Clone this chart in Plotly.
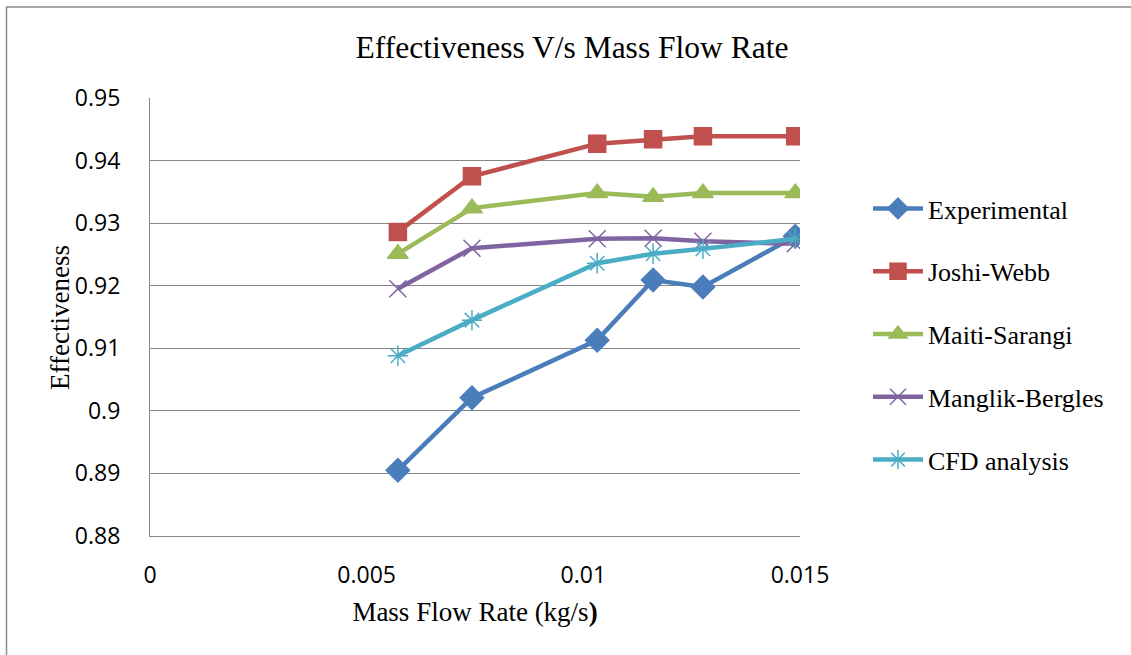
import plotly.graph_objects as go

# Mass flow rate (kg/s) at each test point
mass_flow = [0.00572, 0.00743, 0.01032, 0.01161, 0.01276, 0.01489]

# Effectiveness for each method
experimental = [0.8905, 0.9021, 0.9113, 0.9209, 0.9198, 0.9279]
joshi_webb = [0.9286, 0.9375, 0.9427, 0.9434, 0.9439, 0.9439]
maiti_sarangi = [0.9251, 0.9324, 0.9348, 0.9342, 0.9348, 0.9348]
manglik_bergles = [0.9195, 0.9260, 0.9275, 0.9276, 0.9271, 0.9267]
cfd_analysis = [0.9088, 0.9145, 0.9236, 0.9251, 0.9259, 0.9275]

x_ticks = [0, 0.005, 0.01, 0.015]
x_tick_text = ["0", "0.005", "0.01", "0.015"]
y_ticks = [0.88, 0.89, 0.90, 0.91, 0.92, 0.93, 0.94, 0.95]
y_tick_text = ["0.88", "0.89", "0.9", "0.91", "0.92", "0.93", "0.94", "0.95"]

series = [
    ("Experimental", experimental, "#4A7EBB", "diamond", 18),
    ("Joshi-Webb", joshi_webb, "#C0504D", "square", 17),
    ("Maiti-Sarangi", maiti_sarangi, "#9BBB59", "triangle-up", 18),
    ("Manglik-Bergles", manglik_bergles, "#8064A2", "x-thin-open", 17),
    ("CFD analysis", cfd_analysis, "#4BACC6", "asterisk-open", 17),
]

SERIF = "Liberation Serif, Times New Roman, serif"
SANS = "Open Sans, Noto Sans, sans-serif"

W, H = 1131, 655
ML, MR, MT, MB = 150, 331, 98, 119

fig = go.Figure()
for name, vals, color, symbol, size in series:
    fig.add_trace(go.Scatter(
        x=mass_flow, y=vals, name=name, mode="lines+markers",
        legendgroup=name,
        line=dict(color=color, width=4.5),
        marker=dict(symbol=symbol, size=size, color=color,
                    line=dict(color=color, width=1.5)),
    ))

pw = W - ML - MR
ph = H - MT - MB
# outer chart border (extends past the right and bottom edges)
fig.add_shape(type="rect", xref="paper", yref="paper",
              x0=(6.5 - ML) / pw, x1=(W + 20 - ML) / pw,
              y0=(H - (H + 20) - MB) / ph, y1=(H - 7 - MB) / ph,
              line=dict(color="#8c8c8c", width=1.5), fillcolor="rgba(0,0,0,0)",
              layer="below")

# y-axis title
fig.add_annotation(text="Effectiveness", textangle=-90,
                   xref="paper", yref="paper",
                   x=(60 - ML) / pw, y=1 - (318 - MT) / ph,
                   xanchor="center", yanchor="middle", showarrow=False,
                   font=dict(family=SERIF, size=27, color="black"))

fig.update_layout(
    width=W, height=H,
    margin=dict(l=ML, r=MR, t=MT, b=MB),
    paper_bgcolor="white", plot_bgcolor="white",
    title=dict(text="Effectiveness V/s Mass Flow Rate", xref="container",
               x=572 / W, xanchor="center", y=1 - 47 / H, yanchor="middle",
               font=dict(family=SERIF, size=31.5, color="black")),
    xaxis=dict(range=[0, 0.015], tickvals=x_ticks, ticktext=x_tick_text,
               showgrid=False, zeroline=False, showline=True,
               linecolor="#868686", linewidth=1.2, ticks="",
               ticklabelstandoff=18,
               tickfont=dict(family=SANS, size=23, color="black"),
               title=dict(text="Mass Flow Rate (kg/s<b>)</b>", standoff=13,
                          font=dict(family=SERIF, size=27, color="black"))),
    yaxis=dict(range=[0.88, 0.95], tickvals=y_ticks, ticktext=y_tick_text,
               showgrid=True, gridcolor="#868686", gridwidth=1.2,
               zeroline=False, showline=True, linecolor="#868686",
               linewidth=1.2, ticks="", ticklabelstandoff=24,
               tickfont=dict(family=SANS, size=23, color="black")),
    legend=dict(x=(868 - ML) / pw, xanchor="left", y=1 - (185 - MT) / ph,
                yanchor="top", font=dict(family=SERIF, size=26, color="black"),
                tracegroupgap=26, itemwidth=50, bgcolor="rgba(0,0,0,0)"),
    showlegend=True,
)

fig.write_html("out.html")
